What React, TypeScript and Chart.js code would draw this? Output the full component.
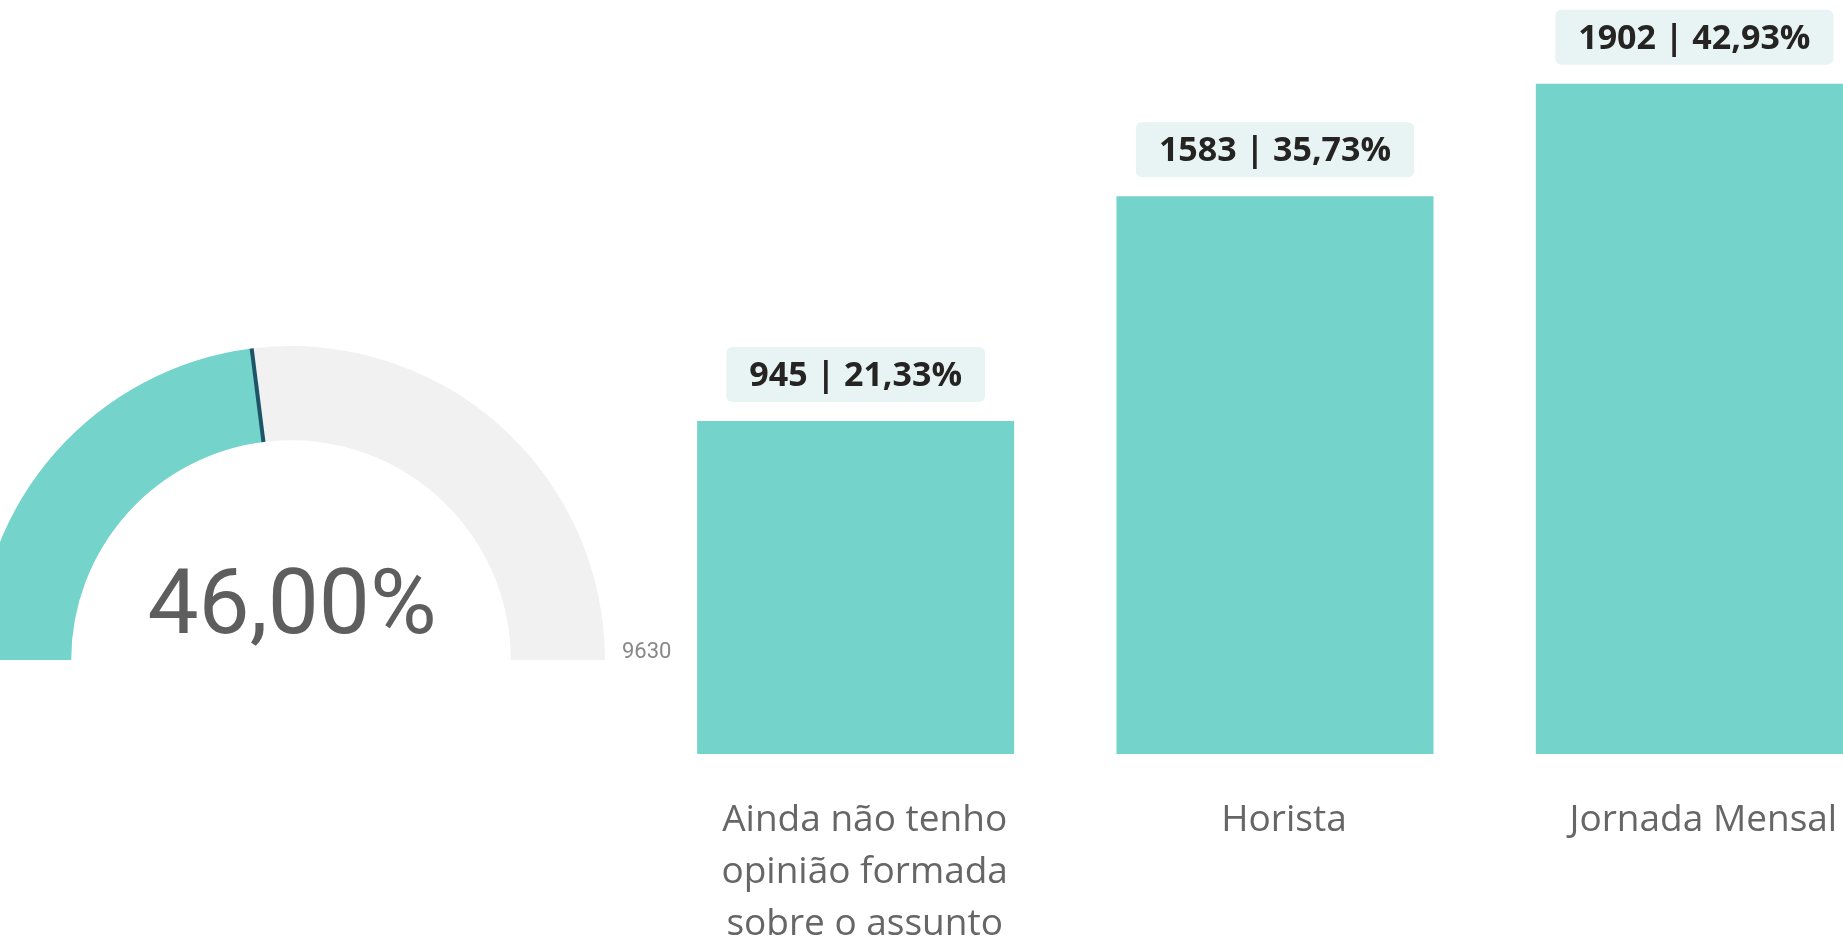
import React, { useEffect, useRef } from "react";
import { Chart, registerables } from "chart.js";

Chart.register(...registerables);

const categories: (string | string[])[] = [
  ["Ainda não tenho", "opinião formada", "sobre o assunto"],
  "Horista",
  "Jornada Mensal",
];
const barValues: number[] = [945, 1583, 1902];
const gaugeValue = 4430;
const gaugeMax = 9630;

const TEAL = "rgb(116, 211, 202)";
const GRAY = "#F2F1F1";
const NEEDLE = "#1D5468";
const BOX = "rgb(231, 244, 243)";

const fmtPct = (v: number) => v.toFixed(2).replace(".", ",") + "%";

export default function App() {
  const gaugeRef = useRef<HTMLCanvasElement>(null);
  const barRef = useRef<HTMLCanvasElement>(null);

  useEffect(() => {
    const total = barValues.reduce((a, b) => a + b, 0);

    const gaugePlugin = {
      id: "gaugeDecor",
      afterDatasetsDraw(chart: any) {
        const meta = chart.getDatasetMeta(0);
        const arc = meta.data[0];
        if (!arc) return;
        const { x, y, innerRadius, outerRadius, endAngle } = arc;
        const ctx = chart.ctx;
        ctx.save();
        ctx.strokeStyle = NEEDLE;
        ctx.lineWidth = 4;
        ctx.beginPath();
        ctx.moveTo(x + Math.cos(endAngle) * innerRadius, y + Math.sin(endAngle) * innerRadius);
        ctx.lineTo(x + Math.cos(endAngle) * outerRadius, y + Math.sin(endAngle) * outerRadius);
        ctx.stroke();
        ctx.fillStyle = "#5E5E5E";
        ctx.font = "400 91px Roboto";
        ctx.textAlign = "center";
        ctx.textBaseline = "alphabetic";
        ctx.fillText(fmtPct((gaugeValue / gaugeMax) * 100), x + 1, y - 27);
        ctx.fillStyle = "#888888";
        ctx.font = "400 22px Roboto";
        ctx.textAlign = "left";
        ctx.fillText(String(gaugeMax), x + outerRadius + 17, y - 2);
        ctx.restore();
      },
    };

    const gauge = new Chart(gaugeRef.current!, {
      type: "doughnut",
      data: {
        labels: ["Valor", "Restante"],
        datasets: [
          {
            data: [gaugeValue, gaugeMax - gaugeValue],
            backgroundColor: [TEAL, GRAY],
            borderWidth: 0,
          },
        ],
      },
      options: {
        responsive: false,
        animation: false,
        rotation: -90,
        circumference: 180,
        cutout: "70%",
        layout: { padding: { left: 0, top: 0, right: 72, bottom: 86 } },
        plugins: { legend: { display: false }, tooltip: { enabled: false } },
      },
      plugins: [gaugePlugin],
    });

    const labelPlugin = {
      id: "barLabels",
      afterDatasetsDraw(chart: any) {
        const meta = chart.getDatasetMeta(0);
        const ctx = chart.ctx;
        ctx.save();
        ctx.font = "700 34px 'Open Sans'";
        meta.data.forEach((bar: any, i: number) => {
          const v = barValues[i];
          const text = `${v} | ${fmtPct((v / total) * 100)}`;
          const w = ctx.measureText(text).width + 46;
          const h = 55;
          const bottom = bar.y - 19;
          const left = bar.x - w / 2;
          ctx.fillStyle = BOX;
          ctx.beginPath();
          (ctx as any).roundRect(left, bottom - h, w, h, 6);
          ctx.fill();
          ctx.fillStyle = "#252423";
          ctx.textAlign = "center";
          ctx.textBaseline = "middle";
          ctx.fillText(text, bar.x, bottom - h / 2 + 2);
        });
        ctx.restore();
      },
    };

    const bars = new Chart(barRef.current!, {
      type: "bar",
      data: {
        labels: categories,
        datasets: [
          {
            data: barValues,
            backgroundColor: TEAL,
            borderWidth: 0,
            categoryPercentage: 1,
            barPercentage: 0.756,
          },
        ],
      },
      options: {
        responsive: false,
        animation: false,
        layout: { padding: 0 },
        plugins: { legend: { display: false }, tooltip: { enabled: false } },
        scales: {
          x: {
            grid: { display: false },
            border: { display: false },
            ticks: {
              color: "#666666",
              font: { family: "'Open Sans'", size: 37, lineHeight: "52px" as any },
              padding: 32,
              labelOffset: 9,
              maxRotation: 0,
              autoSkip: false,
            },
            afterFit: (scale: any) => {
              scale.height = 183;
            },
          },
          y: {
            display: false,
            min: 0,
            max: 2140,
          },
        },
      },
      plugins: [labelPlugin],
    });

    return () => {
      gauge.destroy();
      bars.destroy();
    };
  }, []);

  return (
    <div
      style={{
        position: "fixed",
        left: 0,
        top: 0,
        width: 1843,
        height: 937,
        overflow: "hidden",
        background: "#ffffff",
      }}
    >
      <canvas
        ref={gaugeRef}
        width={700}
        height={400}
        style={{ position: "absolute", left: -23, top: 346, width: 700, height: 400 }}
      />
      <canvas
        ref={barRef}
        width={1258}
        height={937}
        style={{ position: "absolute", left: 646, top: 0, width: 1258, height: 937 }}
      />
    </div>
  );
}
